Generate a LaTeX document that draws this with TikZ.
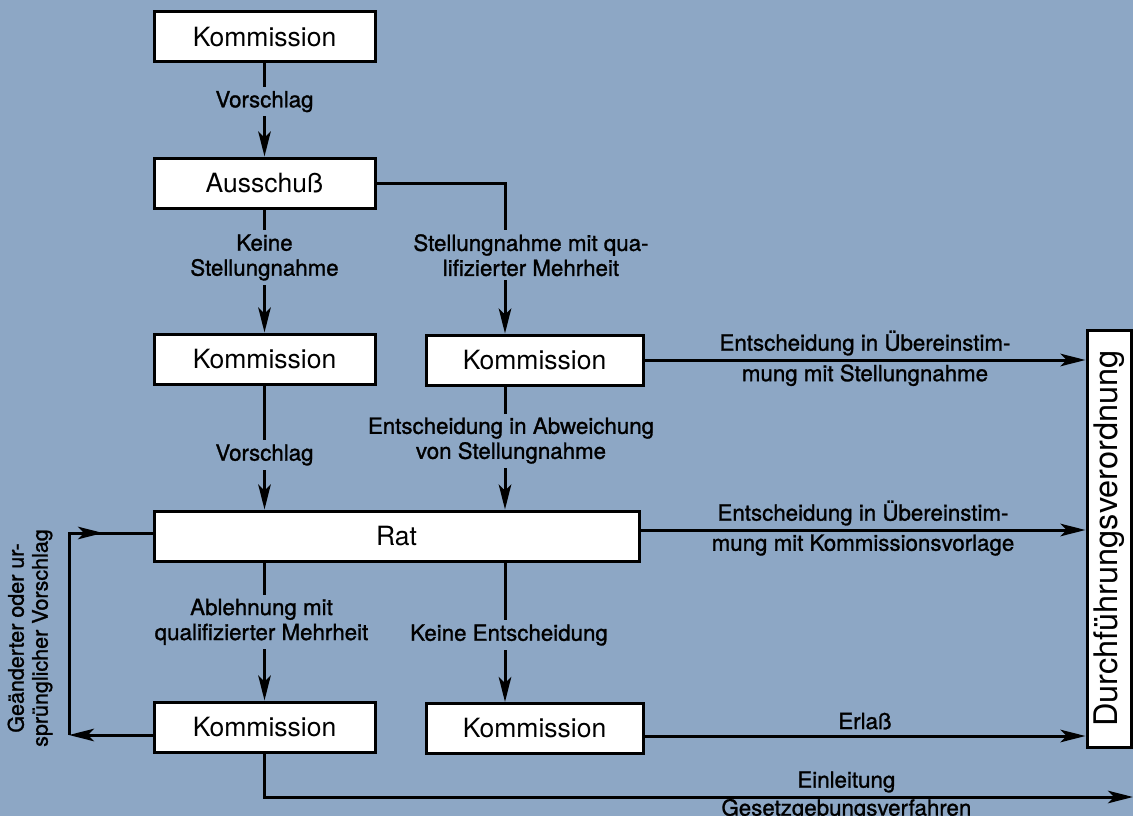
\documentclass[tikz,border=0pt]{standalone}
\usepackage{fontspec}
\setmainfont{TeX Gyre Heros}
\newfontfamily\lblfont[FakeBold=1.2]{TeX Gyre Heros}
\usetikzlibrary{arrows.meta, positioning}
\definecolor{hinter}{RGB}{141,167,197}
\tikzset{
    kasten/.style = {draw, fill=white, line width=3pt, minimum width=221pt, minimum height=50pt, font=\fontsize{26.5}{30}\selectfont},
    lbl/.style    = {fill=hinter, inner sep=4pt, align=center, font=\lblfont\fontsize{22.3}{25}\selectfont},
    txt/.style    = {inner sep=3pt, align=center, font=\lblfont\fontsize{22.3}{25}\selectfont}
}

\begin{document}
\begin{tikzpicture}[x=1pt, y=-1pt, line width=3pt, >={Stealth[length=25pt, width=12.5pt, inset=6pt]}]
    \fill [hinter] (0,0) rectangle (1133,816);
    \useasboundingbox (0,0) rectangle (1133,816);
    \coordinate (mitte) at (505,0);
    \coordinate (links) at (69,0);
    \coordinate (unten) at (264.5,797);
    \coordinate (ende) at (1133,797);

    \node [kasten] (k1) at (264.5,37) {Kommission};
    \node [kasten] (aus) at (264.5,183) {Ausschuß};
    \node [kasten] (k2) at (264.5,359) {Kommission};
    \node [kasten, minimum width=217pt] (k3) at (534.5,360) {Kommission};
    \node [kasten, minimum width=485pt] (rat) at (396.5,536) {Rat};
    \node [kasten] (k4) at (264.5,727) {Kommission};
    \node [kasten, minimum width=217pt] (k5) at (534.5,728.5) {Kommission};
    \node [draw, fill=white, minimum width=44pt, minimum height=417pt] (dv) at (1109,538.5) {};
    \node [rotate=90, font=\fontsize{32.5}{36}\selectfont] at (dv) {Durchführungsverordnung};

    % Kommission -> Ausschuss -> Kommission
    \draw [->] (k1) -- node [lbl, pos=0.41] {Vorschlag} (aus);
    \draw [->] (aus) -- node [lbl, pos=0.39] {Keine\\Stellungnahme} (k2);
    \draw [->] (aus.east) -- (aus.east -| mitte) -- node [lbl, pos=0.48, xshift=26pt] {Stellungnahme mit qua-\\lifizierter Mehrheit} (k3.north -| mitte);

    % Kommission -> Rat
    \draw [->] (k2) -- node [lbl, pos=0.56] {Vorschlag} (k2 |- rat.north);
    \draw [->] (k3.south -| mitte) -- node [lbl, pos=0.44, xshift=6pt] {Entscheidung in Abweichung\\von Stellungnahme} (rat.north -| mitte);

    % Rat -> Kommission
    \draw [->] (k4 |- rat.south) -- node [lbl, pos=0.43, xshift=-3pt] {Ablehnung mit\\qualifizierter Mehrheit} (k4);
    \draw [->] (rat.south -| mitte) -- node [lbl, pos=0.52, xshift=4pt] {Keine Entscheidung} (k5.north -| mitte);

    % nach rechts
    \draw [->] (k3.east) -- node [txt, above] {Entscheidung in Übereinstim-} node [txt, below] {mung mit Stellungnahme} (k3.east -| dv.west);
    \draw [->] ([yshift=6pt]rat.east) -- node [txt, above] {Entscheidung in Übereinstim-} node [txt, below] {mung mit Kommissionsvorlage} ([yshift=6pt]rat.east -| dv.west);
    \draw [->] ([yshift=-7.5pt]k5.east) -- node [txt, above, yshift=2pt] {Erlaß} ([yshift=-7.5pt]k5.east -| dv.west);
    \draw [->] (k4.south) -- (unten) -- node [txt, above, pos=0.67] {Einleitung} node [txt, below, pos=0.67, inner sep=0.5pt] {Gesetzgebungsverfahren} (ende);

    % Rueckweg links
    \draw [->] ([yshift=-8pt]k4.west) -- ([yshift=-8pt]k4.west -| links);
    \draw ([yshift=-8pt]k4.west -| links) -- ([yshift=3pt]rat.west -| links) -- ([yshift=3pt]rat.west);
    \draw [->] ([yshift=3pt]rat.west -| links) -- ++(34,0);
    \node [txt, rotate=90, font=\lblfont\fontsize{21.5}{24}\selectfont] at (30,638) {Geänderter oder ur-\\sprünglicher Vorschlag};
\end{tikzpicture}
\end{document}
